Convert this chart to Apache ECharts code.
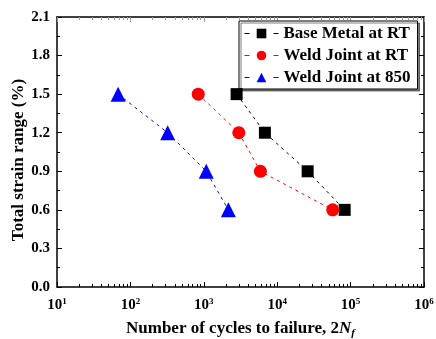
<!DOCTYPE html>
<html><head><meta charset="utf-8">
<script src="https://cdn.jsdelivr.net/npm/echarts@6/dist/echarts.min.js"></script>
<style>html,body{margin:0;padding:0;background:#fff}#c{width:436px;height:339px}</style>
</head><body><div id="c"></div>
<script>
var seriesNames = ['Base Metal at RT', 'Weld Joint at RT', 'Weld Joint at 850'];
var baseMetalN = [2800, 6800, 26000, 83000];
var baseMetalStrain = [1.5, 1.2, 0.9, 0.6];
var weldRTN = [840, 3000, 5900, 57000];
var weldRTStrain = [1.5, 1.2, 0.9, 0.6];
var weld850N = [68, 322, 1080, 2160];
var weld850Strain = [1.5, 1.2, 0.9, 0.6];
var xTickExponents = [1, 2, 3, 4, 5, 6];
var yTicks = [0.0, 0.3, 0.6, 0.9, 1.2, 1.5, 1.8, 2.1];

var yMin = yTicks[0], yMax = yTicks[yTicks.length - 1];
var minorX = [];
for (var e = xTickExponents[0]; e < xTickExponents[xTickExponents.length - 1]; e++)
  for (var m = 2; m <= 9; m++) minorX.push(m * Math.pow(10, e));

function pairs(xs, ys) { return xs.map(function (x, i) { return [x, ys[i]]; }); }
var font = '"Liberation Serif", "Times New Roman", serif';
var chart = echarts.init(document.getElementById('c'), null, { renderer: 'canvas' });
function mk(name, xs, ys, color, symbol, size) {
  return {
    name: name, type: 'line', data: pairs(xs, ys), xAxisIndex: 0, yAxisIndex: 0,
    symbol: symbol, symbolSize: size, z: 5,
    lineStyle: { color: color, width: 1, type: [3, 4] },
    itemStyle: { color: color }
  };
}
function minorTicks(yv, dir, color, len) {
  return {
    type: 'custom', xAxisIndex: 0, yAxisIndex: 0, silent: true, clip: false, z: 3,
    data: minorX.map(function (v) { return [v, yv]; }),
    encode: { x: 0, y: 1 },
    renderItem: function (params, api) {
      var p = api.coord([api.value(0), api.value(1)]);
      var x = Math.round(p[0]) + 0.5;
      return { type: 'line', shape: { x1: x, y1: p[1], x2: x, y2: p[1] + dir * len },
               style: { stroke: color, lineWidth: 1 } };
    }
  };
}
chart.setOption({
  animation: false,
  grid: { left: 57, right: 12, top: 17, bottom: 52, outerBoundsMode: 'none', containLabel: false },
  legend: {
    data: seriesNames, orient: 'vertical', left: 239, top: 21,
    itemWidth: 34, itemHeight: 12, itemGap: 5,
    padding: [4, 7, 3, 5],
    borderColor: '#000', borderWidth: 1, backgroundColor: '#fff',
    shadowColor: 'rgba(0,0,0,0.5)', shadowOffsetX: 2, shadowOffsetY: 2, shadowBlur: 0,
    lineStyle: { type: [5, 24], width: 1 },
    textStyle: { fontFamily: font, fontWeight: 'bold', fontSize: 17, color: '#000', padding: [0, 0, 0, 0] }
  },
  xAxis: [
    {
      type: 'log', logBase: 10, min: Math.pow(10, xTickExponents[0]), max: Math.pow(10, xTickExponents[xTickExponents.length - 1]),
      position: 'bottom',
      name: 'Number of cycles to failure, 2{i|N}{sub|f}', nameLocation: 'middle', nameGap: 32, nameMoveOverlap: false,
      nameTextStyle: { fontFamily: font, fontWeight: 'bold', fontSize: 17, color: '#000',
        rich: { i: { fontFamily: font, fontWeight: 'bold', fontStyle: 'italic', fontSize: 17 },
                sub: { fontFamily: font, fontWeight: 'bold', fontStyle: 'italic', fontSize: 11, padding: [9, 0, 0, 0] } } },
      axisLine: { onZero: false, lineStyle: { color: '#000', width: 1.5 } },
      axisTick: { show: true, inside: true, length: 5, lineStyle: { color: '#000', width: 1 } },
      splitLine: { show: false },
      axisLabel: {
        margin: 10, color: '#000',
        formatter: function (v) { var k = Math.round(Math.log10(v)); return '{b|10}{s|' + k + '}'; },
        rich: { b: { fontFamily: font, fontWeight: 'bold', fontSize: 15, color: '#000' },
                s: { fontFamily: font, fontWeight: 'bold', fontSize: 9, color: '#000', padding: [0, 0, 8, 0] } }
      }
    },
    {
      type: 'log', logBase: 10, min: Math.pow(10, xTickExponents[0]), max: Math.pow(10, xTickExponents[xTickExponents.length - 1]),
      position: 'top',
      axisLine: { show: true, onZero: false, lineStyle: { color: '#000', width: 1.5 } }, axisLabel: { show: false }, splitLine: { show: false },
      axisTick: { inside: true, length: 5, lineStyle: { color: '#999' } }
    }
  ],
  yAxis: [
    {
      type: 'value', min: yMin, max: yMax, interval: 0.3, position: 'left',
      name: 'Total strain range (%)', nameLocation: 'middle', nameGap: 30, nameMoveOverlap: false,
      nameTextStyle: { fontFamily: font, fontWeight: 'bold', fontSize: 17, color: '#000', padding: [0, 16, 0, 0] },
      axisLine: { show: true, onZero: false, lineStyle: { color: '#000', width: 1.5 } },
      axisTick: { inside: true, length: 5, lineStyle: { color: '#000' } },
      minorTick: { show: true, splitNumber: 2, length: 3, lineStyle: { color: '#000' } },
      splitLine: { show: false },
      axisLabel: { margin: 7, color: '#000', fontFamily: font, fontWeight: 'bold', fontSize: 15,
        formatter: function (v) { return v.toFixed(1); } }
    },
    {
      type: 'value', min: yMin, max: yMax, interval: 0.3, position: 'right',
      axisLine: { show: true, onZero: false, lineStyle: { color: '#000', width: 1.5 } },
      axisTick: { inside: true, length: 5, lineStyle: { color: '#000' } },
      minorTick: { show: true, splitNumber: 2, length: 3, lineStyle: { color: '#000' } },
      splitLine: { show: false }, axisLabel: { show: false }
    }
  ],
  series: [
    mk(seriesNames[0], baseMetalN, baseMetalStrain, '#000000', 'rect', 12),
    mk(seriesNames[1], weldRTN, weldRTStrain, '#ff0000', 'circle', 13),
    mk(seriesNames[2], weld850N, weld850Strain, '#0000ff', 'triangle', 15),
    minorTicks(yMin, -1, '#000', 3),
    minorTicks(yMax, 1, '#999', 3)
  ]
});
</script></body></html>
